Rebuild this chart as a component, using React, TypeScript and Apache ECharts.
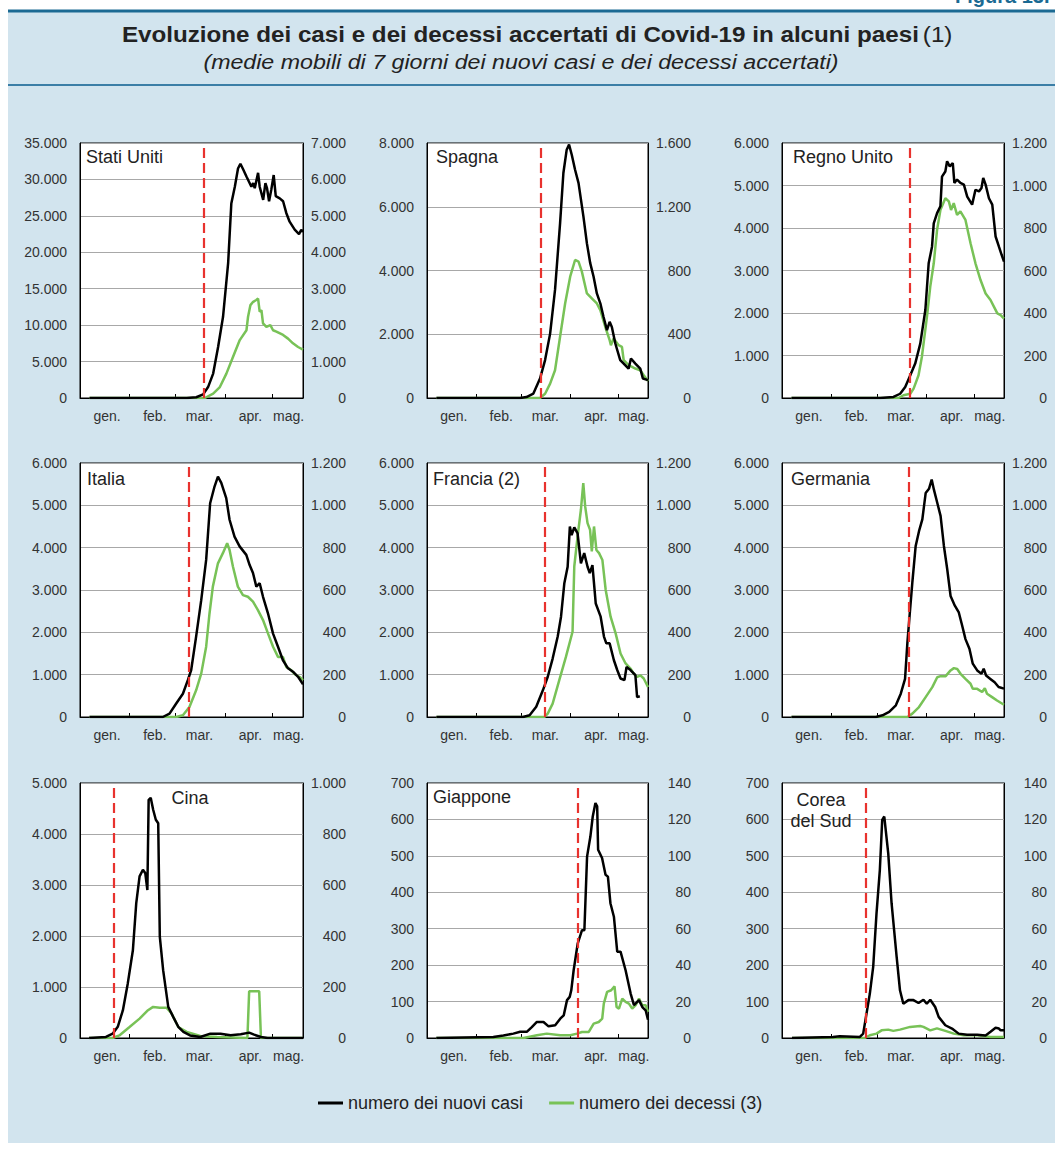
import React, { useEffect, useRef } from "react";
import * as echarts from "echarts";

// ---- axis scaffolding: days from 1 Jan 2020 (index 0) to 20 May 2020 (index 140)
const DAY_COUNT = 141;
const MONTH_START_IDX = [31, 60, 91, 121];
const MONTH_LABEL_IDX = [17, 47, 75, 107, 131];
const MONTH_NAMES = ["gen.", "feb.", "mar.", "apr.", "mag."];

// ---- panels
const PANEL_NAMES = ["Stati Uniti", "Spagna", "Regno Unito", "Italia", "Francia (2)", "Germania", "Cina", "Giappone", "Corea\ndel Sud"];
const LEFT_MAX = [35000, 8000, 6000, 6000, 6000, 6000, 5000, 700, 700];
const LEFT_STEP = [5000, 2000, 1000, 1000, 1000, 1000, 1000, 100, 100];
const RIGHT_MAX = [7000, 1600, 1200, 1200, 1200, 1200, 1000, 140, 140];
const RIGHT_STEP = [1000, 400, 200, 200, 200, 200, 200, 20, 20];
const LOCKDOWN_DAY = [77.5, 72, 80.3, 68, 74.6, 80, 21.4, 95.5, 53];

// ---- series: [day index, value] (7-day moving averages)
const US_CASES = [[6,0],[67,0],[73,100],[77.3,500],[80.4,1500],[83.6,3350],[86.7,7000],[89.8,11150],[93,18500],[95,26700],[97.2,29000],[99.2,31500],[100.7,32150],[102.4,31400],[104.5,30400],[107.6,29000],[108.7,29500],[109.7,28800],[111.8,30900],[112.8,29000],[115,27200],[116.4,29500],[117.4,28800],[118.7,27000],[120.1,28600],[121.6,30600],[122.9,27700],[125.4,27400],[127.5,27000],[129.5,25400],[131.6,24200],[134.8,23100],[137.5,22500],[138.9,23100],[140,22800]];
const US_DEATHS = [[6,0],[78.4,0],[83.6,120],[87.8,300],[91.9,670],[96.1,1130],[100.3,1590],[104.5,1860],[105.5,2230],[107,2550],[108.7,2640],[110.7,2690],[111.8,2730],[112.8,2370],[113.9,2410],[114.9,2050],[117,1950],[119.5,2000],[121.2,1860],[123.3,1820],[127.5,1730],[130.6,1630],[133.7,1500],[136.9,1400],[140,1330]];
const ES_CASES = [[6,0],[59,0],[63,30],[67.4,140],[71.6,610],[74.8,1190],[78,2020],[81.1,3390],[84.3,5480],[86.4,7060],[88.5,7790],[90,7950],[91.7,7630],[93.8,7160],[96,6740],[99.1,5690],[101.3,4850],[103.4,4230],[105.5,3810],[107.6,3280],[109.8,2970],[111.8,2550],[114,2130],[115.7,2390],[117.1,2230],[119.3,1710],[122.4,1190],[124.6,1080],[127.7,920],[129.2,1240],[132,1080],[135.1,920],[136.8,610],[140,560]];
const ES_DEATHS = [[6,0],[71.6,0],[74.8,27],[78,90],[81.1,174],[84.3,384],[87.5,593],[90.7,761],[93.8,866],[96,856],[98.1,793],[101.3,656],[104.4,625],[107.6,593],[109.8,551],[112.9,447],[115.7,363],[116.5,331],[118.2,373],[121.4,331],[123.5,321],[124.6,237],[127.7,206],[132,185],[135.1,174],[137.3,143],[140,107]];
const UK_CASES = [[6,0],[61.9,0],[70.3,24],[74.5,100],[77.7,260],[80.9,535],[84,810],[87.2,1280],[90.4,2070],[92.5,3170],[94.6,3560],[95.7,4110],[97.8,4350],[99.9,4510],[100.9,5210],[103,5330],[104.1,5570],[105.8,5450],[107.7,5530],[108.7,5060],[110.4,5140],[112.5,5060],[114.7,5020],[116.8,4740],[119.9,4550],[122,4900],[124.2,4860],[125.8,4940],[126.9,5180],[128.4,5020],[130.5,4700],[132.6,4550],[134.7,3800],[136.8,3560],[138.5,3370],[140,3210]];
const UK_DEATHS = [[6,0],[73.5,0],[76.6,13],[80.9,20],[83,44],[86.1,107],[88.2,193],[91.4,382],[93.5,524],[95.7,634],[97.8,791],[99.9,885],[103,940],[105.2,925],[106.6,885],[108.3,917],[110.4,862],[112.5,878],[115.7,838],[118.9,728],[122,634],[125.2,555],[128.4,492],[131.5,461],[133.7,429],[135.8,398],[137.9,390],[140,374]];
const IT_CASES = [[6,0],[52,0],[56.2,80],[60.4,320],[64.6,550],[67.7,870],[69.8,1110],[72.9,1900],[76.1,2760],[79.2,3710],[81.7,5050],[84.5,5450],[86.6,5680],[88.7,5530],[91.8,5170],[93.9,4660],[97,4260],[100.2,4030],[104.4,3830],[106.5,3590],[108.6,3400],[110.7,3080],[112.8,3160],[114.9,2840],[118,2450],[121.2,1970],[124.3,1660],[127.4,1340],[130.6,1150],[133.7,1070],[136.9,950],[140,770]];
const IT_DEATHS = [[6,0],[60.4,0],[64.6,8],[68.7,47],[72.9,126],[76.1,205],[79.2,332],[81.3,489],[83.4,616],[86.6,726],[89.7,774],[92.4,821],[93.9,789],[96,711],[99.1,616],[102.3,576],[105.4,568],[108.6,545],[111.7,505],[114.9,458],[118,395],[121.2,332],[124.3,284],[127.4,284],[129.5,237],[132.7,221],[134.8,202],[137.9,189],[140,174]];
const FR_CASES = [[6,0],[60.8,0],[65,40],[69.2,240],[73.4,630],[76.5,950],[79.6,1380],[82.8,1900],[84.9,2370],[87,3160],[89.1,3550],[90.5,4500],[91.6,4300],[93.3,4480],[95.4,4340],[97.5,3630],[99.6,3870],[101.7,3550],[103.1,3400],[104.8,3590],[106.9,2680],[110,2370],[112.1,1900],[113.6,1740],[115.7,1740],[118.4,1340],[120.5,1110],[122.6,910],[125.1,870],[126.4,1180],[128.9,1110],[132,990],[133.1,470],[134.8,490]];
const FR_DEATHS = [[6,0],[74.4,0],[76.5,16],[79.6,63],[83.8,174],[88,284],[92.2,403],[93.3,711],[95.4,853],[97.5,979],[99,1105],[100.2,995],[101.7,916],[103.3,884],[104.4,782],[105.8,900],[107.3,789],[109,774],[111.1,742],[113.2,600],[116.3,474],[119.5,395],[122.6,300],[125.8,253],[128.9,229],[131,205],[133.1,189],[135.2,197],[137.3,182],[140,142]];
const DE_CASES = [[6,0],[59.2,0],[63.4,40],[67.6,120],[71.8,275],[74.9,550],[77.6,900],[79.1,1770],[80.8,2550],[82.2,3180],[84.3,4040],[86.4,4390],[88.5,4670],[90.6,5290],[92.7,5390],[94.4,5610],[95.8,5370],[97.9,5060],[100,4750],[102.1,4040],[104.2,3490],[106.3,2860],[109,2630],[111.5,2470],[113.6,2160],[115.7,1840],[118.2,1610],[120.3,1260],[123.1,1100],[125.8,1020],[127.2,1140],[128.7,980],[131.4,900],[134.1,820],[136.6,710],[140,670]];
const DE_DEATHS = [[6,0],[79.1,0],[82.2,16],[86.4,47],[90.6,94],[94.8,141],[97.9,188],[100,193],[103.2,193],[106.3,220],[108.4,231],[110.5,227],[112.6,204],[115.7,180],[118.9,157],[120.3,133],[123.1,133],[126.2,118],[127.9,136],[129.3,110],[132.5,94],[135.6,78],[140,58]];
const CN_CASES = [[5.7,0],[16.3,20],[20.5,85],[23.7,220],[26.9,540],[30,1070],[33.2,1720],[35.3,2640],[37.4,3170],[39.5,3300],[41,3230],[42.3,2900],[43.1,4670],[44.4,4710],[45.9,4480],[47.6,4280],[49.1,4210],[50.1,1990],[52.2,1330],[55.4,610],[58.6,410],[61.7,220],[64.9,120],[69.1,50],[75.5,20],[81.8,85],[88.2,85],[94.5,52],[100.9,72],[106.2,105],[109.3,66],[113.6,20],[117.8,0],[140,0]];
const CN_DEATHS = [[5.7,0],[20.5,0],[24.7,10],[31.1,43],[37.4,76],[42.7,109],[45.9,122],[50.1,119],[54.3,119],[57.5,96],[61.7,43],[67,24],[75.5,8],[86.1,4],[105.1,0],[106.2,183],[112.5,183],[113.6,0],[140,0]];
const JP_CASES = [[5.9,0],[42,3],[48.4,7],[54.7,12],[59,17],[63.2,17],[66.4,30],[69.6,44],[73.8,44],[77,32],[81.2,35],[84.4,53],[86.6,62],[88.7,104],[90.4,113],[91.4,131],[92.9,186],[95.5,260],[98.2,296],[99.7,296],[101.4,498],[103.5,553],[105,608],[106.7,645],[107.8,636],[108.4,517],[110.9,494],[113.1,448],[114.6,443],[116.2,370],[118.4,333],[120.5,237],[122.6,237],[125.8,186],[129,122],[131.1,90],[134.3,104],[136.4,85],[138.5,76],[140,50]];
const JP_DEATHS = [[5.9,0],[61.1,0],[64.3,0.6],[69.6,1.5],[75.9,2.4],[84.4,1.5],[90.8,1.5],[95,2.4],[98.2,3.3],[102.5,3.3],[105.6,7.9],[108.8,8.8],[111,10.6],[112,18.9],[114.1,25.3],[116.7,26.2],[118.8,28.4],[120.1,17],[121.6,16.1],[123.7,21.6],[125.8,19.8],[127.9,18.9],[130,16.1],[132.2,18],[134.3,21.6],[136.4,18],[138.5,18],[140,14.3]];
const KR_CASES = [[6.3,0],[32.1,3],[36.4,5],[49.1,3],[51.2,12],[53.3,67],[55.4,122],[57.5,195],[59.6,342],[61.7,461],[63.2,599],[64.5,608],[67,507],[69.1,370],[72.3,223],[74.4,131],[76.5,94],[79.7,104],[82.9,104],[86.1,96],[89.2,105],[91.3,94],[93.5,105],[96.6,85],[98.8,58],[103,35],[107.2,26],[111.4,12],[116.7,9],[123.1,9],[128.4,7],[131.5,17],[134.7,28],[136.8,26],[137.9,21],[140,21]];
const KR_DEATHS = [[6.3,0],[52.2,0],[55.4,1.5],[59.6,2.4],[62.8,4.2],[67,4.6],[70.2,3.9],[74.4,4.6],[80.8,6.1],[87.1,6.6],[89.2,6.1],[93.5,4.2],[97.7,5.3],[103,3.9],[108.3,2.4],[114.6,1.5],[123.1,1.5],[131.5,0.6],[140,0.6]];

const CASES = [US_CASES, ES_CASES, UK_CASES, IT_CASES, FR_CASES, DE_CASES, CN_CASES, JP_CASES, KR_CASES];
const DEATHS = [US_DEATHS, ES_DEATHS, UK_DEATHS, IT_DEATHS, FR_DEATHS, DE_DEATHS, CN_DEATHS, JP_DEATHS, KR_DEATHS];

const LEGEND_CASES = "numero dei nuovi casi";
const LEGEND_DEATHS = "numero dei decessi (3)";

// ---- layout / style
const FONT = "'Liberation Sans', Arial, Helvetica, sans-serif";
const COL_LEFT = [80, 427, 782];
const COL_WIDTH = [223, 221, 222];
const ROW_TOP = [143, 463, 783];
const ROW_HEIGHT = [255, 254, 255];
const NAME_POS: [number, number, string][] = [
  [86, 157, "left"], [436, 157, "left"], [793, 157, "left"],
  [87, 479, "left"], [433, 479, "left"], [791, 479, "left"],
  [190, 798, "center"], [433, 797, "left"], [821, 810, "center"],
];
const BLACK = "#000000";
const GREEN = "#78c257";
const RED = "#e8322e";
const BG = "#d2e4ee";
const DARK_BLUE = "#1b6a93";

const fmt = (v: number) => String(v).replace(/\B(?=(\d{3})+(?!\d))/g, ".");

function buildOption() {
  const dayCats: string[] = [];
  for (let i = 0; i < DAY_COUNT; i++) dayCats.push("d" + i);

  const grid: any[] = [];
  const xAxis: any[] = [];
  const yAxis: any[] = [];
  const series: any[] = [];
  const graphic: any[] = [];

  graphic.push({ type: "rect", z: -10, shape: { x: 8, y: 10, width: 1047, height: 1133 }, style: { fill: BG } });
  graphic.push({ type: "line", z: 10, shape: { x1: 8, y1: 11, x2: 1055, y2: 11 }, style: { stroke: DARK_BLUE, lineWidth: 3 } });
  graphic.push({ type: "line", z: 10, shape: { x1: 8, y1: 85, x2: 1055, y2: 85 }, style: { stroke: "#3b7ea6", lineWidth: 2 } });
  graphic.push({
    type: "text", z: 10, x: 955, y: 6,
    style: { text: "Figura 13.", font: `bold 20px ${FONT}`, fill: DARK_BLUE, align: "left", verticalAlign: "bottom" },
  });
  graphic.push({
    type: "text", z: 10, x: 537, y: 34, scaleX: 1.1,
    style: {
      text: "{b|Evoluzione dei casi e dei decessi accertati di Covid-19 in alcuni paesi} {n|(1)}",
      align: "center", verticalAlign: "middle",
      rich: {
        b: { fontFamily: FONT, fontSize: 22, fontWeight: "bold", fill: "#222" },
        n: { fontFamily: FONT, fontSize: 22, fill: "#222" },
      },
    },
  });
  graphic.push({
    type: "text", z: 10, x: 521, y: 62, scaleX: 1.16,
    style: {
      text: "(medie mobili di 7 giorni dei nuovi casi e dei decessi accertati)",
      font: `italic 20px ${FONT}`, fill: "#222", align: "center", verticalAlign: "middle",
    },
  });

  for (let i = 0; i < 9; i++) {
    const col = i % 3;
    const row = Math.floor(i / 3);
    grid.push({
      left: COL_LEFT[col], top: ROW_TOP[row], width: COL_WIDTH[col], height: ROW_HEIGHT[row],
      show: true, backgroundColor: "#ffffff", borderColor: "#000", borderWidth: 1, containLabel: false,
    });
    xAxis.push({ type: "value", gridIndex: i, position: "top", min: 0, max: DAY_COUNT - 1, show: false });
    xAxis.push({
      type: "category", gridIndex: i, position: "bottom", data: dayCats, boundaryGap: false,
      axisLine: { show: true, lineStyle: { color: "#000", width: 1 } },
      axisTick: { show: true, inside: true, length: 4, interval: (idx: number) => MONTH_START_IDX.includes(idx), lineStyle: { color: "#000" } },
      axisLabel: {
        interval: (idx: number) => MONTH_LABEL_IDX.includes(idx),
        formatter: (_v: string, idx: number) => {
          const k = MONTH_LABEL_IDX.indexOf(idx);
          return k >= 0 ? MONTH_NAMES[k] : "";
        },
        fontSize: 14, color: "#333", fontFamily: FONT, margin: 11,
      },
      splitLine: { show: false },
    });
    yAxis.push({
      type: "value", gridIndex: i, position: "left", min: 0, max: LEFT_MAX[i], interval: LEFT_STEP[i],
      axisLine: { show: true, lineStyle: { color: "#000", width: 1 } },
      axisTick: { show: false },
      axisLabel: { formatter: fmt, fontSize: 14, color: "#333", fontFamily: FONT, margin: 13 },
      splitLine: { show: true, lineStyle: { color: "#a8a8a8", width: 1 } },
    });
    yAxis.push({
      type: "value", gridIndex: i, position: "right", min: 0, max: RIGHT_MAX[i], interval: RIGHT_STEP[i],
      axisLine: { show: true, lineStyle: { color: "#000", width: 1 } },
      axisTick: { show: false },
      axisLabel: { formatter: fmt, fontSize: 14, color: "#333", fontFamily: FONT, margin: 43, align: "right" },
      splitLine: { show: false },
    });
    series.push({
      type: "line", name: LEGEND_DEATHS, xAxisIndex: 2 * i, yAxisIndex: 2 * i + 1,
      data: DEATHS[i], showSymbol: false, symbol: "none", color: GREEN,
      lineStyle: { color: GREEN, width: 2.5 }, z: 3,
    });
    series.push({
      type: "line", name: LEGEND_CASES, xAxisIndex: 2 * i, yAxisIndex: 2 * i,
      data: CASES[i], showSymbol: false, symbol: "none", color: BLACK,
      lineStyle: { color: BLACK, width: 2.5 }, z: 4,
      markLine: {
        silent: true, symbol: ["none", "none"], label: { show: false },
        lineStyle: { color: RED, type: [10, 5], width: 2.2 },
        data: [{ xAxis: LOCKDOWN_DAY[i] }],
      },
    });
    const [nx, ny, na] = NAME_POS[i];
    graphic.push({
      type: "text", z: 20, x: nx, y: ny,
      style: {
        text: PANEL_NAMES[i], font: `18px ${FONT}`, fill: "#222",
        align: na, verticalAlign: "middle", lineHeight: 21,
      },
    });
  }

  return {
    animation: false,
    backgroundColor: "transparent",
    grid, xAxis, yAxis, series, graphic,
    legend: {
      data: [LEGEND_CASES, LEGEND_DEATHS], left: 313, top: 1089,
      icon: "rect", itemWidth: 25, itemHeight: 3, itemGap: 26, selectedMode: false,
      textStyle: { fontSize: 18, color: "#222", fontFamily: FONT },
    },
  };
}

export default function App() {
  const ref = useRef<HTMLDivElement>(null);
  useEffect(() => {
    if (!ref.current) return;
    const chart = echarts.init(ref.current, null, { renderer: "svg" });
    chart.setOption(buildOption() as any);
    return () => chart.dispose();
  }, []);
  return (
    <div
      ref={ref}
      style={{ position: "absolute", left: 0, top: 0, width: 1055, height: 1151, background: "#ffffff" }}
    />
  );
}
